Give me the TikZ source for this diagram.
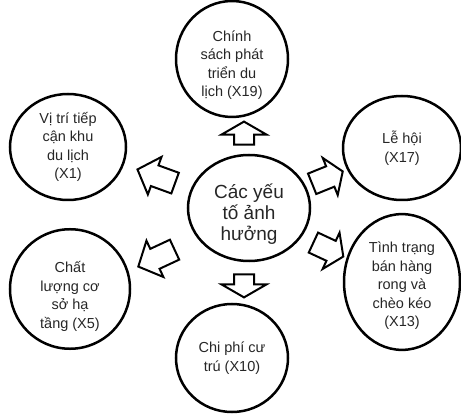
\documentclass[tikz,border=0pt]{standalone}
\usepackage{fontspec}
\setmainfont{Liberation Sans}
\usetikzlibrary{shapes.geometric,shapes.arrows}

\begin{document}
\begin{tikzpicture}[x=1pt, y=1pt,
  factor/.style={ellipse, draw, line width=2.5pt, minimum width=116pt, minimum height=106pt,
                 inner sep=0pt, align=center, text=black!85,
                 font=\fontsize{14.5}{18.5}\selectfont},
  blockarrow/.style={single arrow, draw, line width=2pt, fill=white, inner xsep=0pt, inner ysep=10pt,
                     single arrow head extend=9pt, single arrow tip angle=112, minimum height=33pt},
  longarrow/.style={blockarrow, single arrow tip angle=95, minimum height=40pt},
  flatarrow/.style={blockarrow, inner ysep=9pt, single arrow head extend=12.5pt, single arrow tip angle=120,
                    minimum height=23pt}]
  \useasboundingbox (0,0) rectangle (461,413);

  % centre
  \node[factor, minimum width=122pt, font=\fontsize{19}{21}\selectfont] (yeuto) at (249,205)
    {\rule{0pt}{26pt}Các yếu\\tố ảnh\\hưởng};

  % factors
  \node[factor, minimum width=112pt, minimum height=110pt] (chinhsach) at (232,354)
    {\rule{0pt}{23.5pt}Chính\\sách phát\\triển du\\lịch (X19)};
  \node[factor] (vitri) at (68,266) {Vị trí tiếp\\cận khu\\du lịch\\(X1)};
  \node[factor, minimum width=118pt, minimum height=104pt] (lehoi) at (402,265) {Lễ hội\\(X17)};
  \node[factor, minimum height=100pt] (tinhtrang) at (402,131)
    {\rule{0pt}{19pt}Tình trạng\\bán hàng\\rong và\\chèo kéo\\(X13)};
  \node[factor, minimum width=120pt, minimum height=102pt] (chatluong) at (70,124)
    {\rule{0pt}{26pt}Chất\\lượng cơ\\sở hạ\\tầng (X5)};
  \node[factor, minimum width=112pt, minimum height=108pt] (chiphi) at (232,55) {Chi phí cư\\trú (X10)};

  % block arrows
  \node[flatarrow, rotate=90] (toChinhsach) at (244,277) {};
  \node[flatarrow, rotate=-90] (toChiphi) at (244,130) {};
  \node[longarrow, rotate=160] (toVitri) at (161,235) {};
  \node[blockarrow, rotate=22] (toLehoi) at (324,234) {};
  \node[blockarrow, rotate=-25] (toTinhtrang) at (325,165) {};
  \node[longarrow, rotate=205] (toChatluong) at (161,157) {};
\end{tikzpicture}
\end{document}
